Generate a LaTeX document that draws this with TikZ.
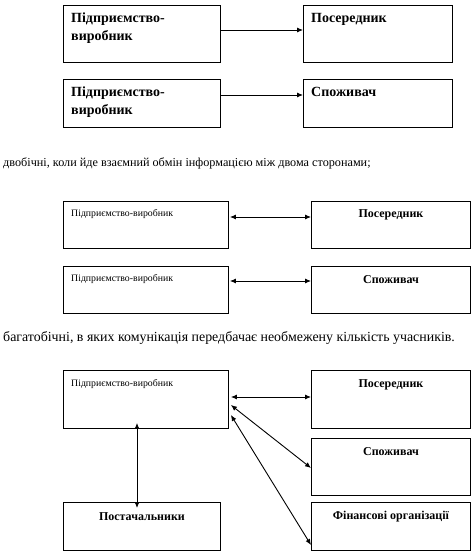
\documentclass[tikz,border=0pt]{standalone}
\usepackage{fontspec}
\setmainfont{Liberation Serif}
\usetikzlibrary{arrows.meta,calc}
\begin{document}
\begin{tikzpicture}[x=1pt,y=1pt,
  box/.style={draw=black, line width=0.9pt, rectangle, inner sep=0pt, anchor=north west},
  bigbold/.style={font=\fontsize{14}{18}\selectfont\bfseries, inner sep=0pt, anchor=north west, align=left},
  midbold/.style={font=\fontsize{12}{14}\selectfont\bfseries, inner sep=0pt},
  small/.style={font=\fontsize{9.8}{11}\selectfont, inner sep=0pt, anchor=west},
  para/.style={inner sep=0pt, anchor=west},
  arr/.style={line width=0.9pt, -{Latex[length=6pt,width=5pt]}},
  darr/.style={line width=0.9pt, {Latex[length=6pt,width=5pt]}-{Latex[length=6pt,width=5pt]}}
]
\useasboundingbox (0,0) rectangle (476,-559);
% section 1
\node[box, minimum width=157pt, minimum height=57pt] (A1) at (63,-5) {};
\node[box, minimum width=149pt, minimum height=57pt] (B1) at (303,-5) {};
\node[box, minimum width=157pt, minimum height=48pt] (A2) at (63,-79) {};
\node[box, minimum width=149pt, minimum height=48pt] (B2) at (303,-79) {};
\node[bigbold] (tA1) at ($(A1.north west)+(8,-8)$) {Підприємство-\\виробник};
\node[bigbold] (tB1) at ($(B1.north west)+(8,-8)$) {Посередник};
\node[bigbold] (tA2) at ($(A2.north west)+(8,-8)$) {Підприємство-\\виробник};
\node[bigbold] (tB2) at ($(B2.north west)+(8,-8)$) {Споживач};
\draw[arr] ($(A1.north east)+(0,-25)$) -- ($(B1.north west)+(0,-25)$);
\draw[arr] ($(A2.north east)+(0,-16)$) -- ($(B2.north west)+(0,-16)$);
\node[para, font=\fontsize{12.2}{14}\selectfont] (p1) at (3,-163) {двобічні, коли йде взаємний обмін інформацією між двома сторонами;};
% section 2
\node[box, minimum width=165pt, minimum height=47pt] (C1) at (63,-201) {};
\node[box, minimum width=159pt, minimum height=47pt] (D1) at (311,-201) {};
\node[box, minimum width=165pt, minimum height=47pt] (C2) at (63,-266) {};
\node[box, minimum width=159pt, minimum height=47pt] (D2) at (311,-266) {};
\node[small] (tC1) at ($(C1.north west)+(8,-13)$) {Підприємство-виробник};
\node[small] (tC2) at ($(C2.north west)+(8,-13)$) {Підприємство-виробник};
\node[midbold] (tD1) at ($(D1.north)+(0,-14)$) {Посередник};
\node[midbold] (tD2) at ($(D2.north)+(0,-14)$) {Споживач};
\draw[darr] ($(C1.north east)+(1,-16)$) -- ($(D1.north west)+(0,-16)$);
\draw[darr] ($(C2.north east)+(1,-15)$) -- ($(D2.north west)+(0,-15)$);
\node[para, font=\fontsize{13.9}{16}\selectfont] (p2) at (3,-338) {багатобічні, в яких комунікація передбачає необмежену кількість учасників.};
% section 3
\node[box, minimum width=165pt, minimum height=58pt] (E) at (63,-370) {};
\node[box, minimum width=159pt, minimum height=58pt] (F) at (311,-370) {};
\node[box, minimum width=159pt, minimum height=57pt] (G) at (311,-438) {};
\node[box, minimum width=157pt, minimum height=48pt] (H) at (63,-502) {};
\node[box, minimum width=159pt, minimum height=48pt] (I) at (311,-502) {};
\node[small] (tE) at ($(E.north west)+(8,-14)$) {Підприємство-виробник};
\node[midbold] (tF) at ($(F.north)+(0,-15)$) {Посередник};
\node[midbold] (tG) at ($(G.north)+(0,-14)$) {Споживач};
\node[midbold] (tH) at ($(H.north)+(0,-15)$) {Постачальники};
\node[midbold] (tI) at ($(I.north)+(0,-15)$) {Фінансові організації};
\coordinate (e1) at ($(E.north east)+(2,-27)$);
\coordinate (e2) at ($(E.north east)+(2,-35)$);
\coordinate (e3) at ($(E.north east)+(2,-45)$);
\draw[darr] (e1) -- ($(F.north west)+(0,-27)$);
\draw[darr] (e2) -- ($(G.north west)+(0,-30)$);
\draw[darr] (e3) -- ($(I.north west)+(0,-43)$);
\coordinate (v1) at ($(E.south west)+(74,6)$);
\coordinate (v2) at ($(H.north west)+(74,-6)$);
\draw[darr] (v1) -- (v2);
\end{tikzpicture}
\end{document}
